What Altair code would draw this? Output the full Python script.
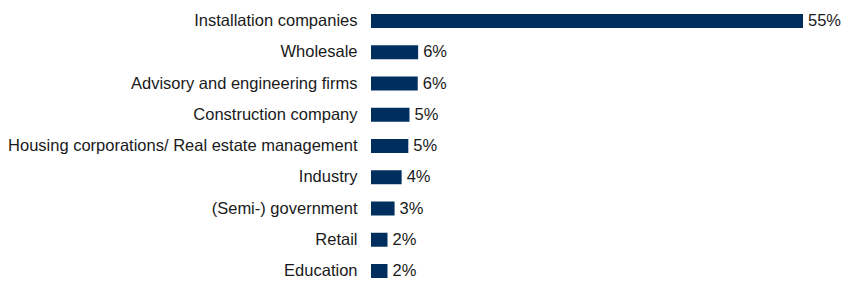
import altair as alt
import pandas as pd

categories = [
    "Installation companies",
    "Wholesale",
    "Advisory and engineering firms",
    "Construction company",
    "Housing corporations/ Real estate management",
    "Industry",
    "(Semi-) government",
    "Retail",
    "Education",
]
values = [55.0, 6.0, 5.95, 4.9, 4.75, 3.9, 3.0, 2.1, 2.1]
labels = ["55%", "6%", "6%", "5%", "5%", "4%", "3%", "2%", "2%"]

df = pd.DataFrame({"cat": categories, "val": values, "lab": labels})

y = alt.Y(
    "cat:N",
    sort=categories,
    title=None,
    scale=alt.Scale(paddingInner=0.552, paddingOuter=0),
    axis=alt.Axis(
        domain=False, ticks=False, labelPadding=14, labelFontSize=16.5,
        labelFont="Liberation Sans", labelColor="#1a1a1a", labelLimit=400,
    ),
)
x = alt.X("val:Q", title=None, axis=None, scale=alt.Scale(domain=[0, 55], nice=False, zero=True))

bars = alt.Chart(df).mark_bar(color="#002f5f").encode(x=x, y=y)
text = alt.Chart(df).mark_text(
    align="left", baseline="middle", dx=5, fontSize=16.5,
    font="Liberation Sans", color="#1a1a1a",
).encode(x=x, y=y, text="lab:N")

chart = (
    (bars + text)
    .properties(
        width=432, height=264,
        autosize=alt.AutoSizeParams(type="none"),
        padding={"left": 363, "top": 6, "right": 39, "bottom": 0},
    )
    .configure_view(stroke=None)
)

chart.save("out.html", embed_options={"renderer": "svg", "actions": False})
